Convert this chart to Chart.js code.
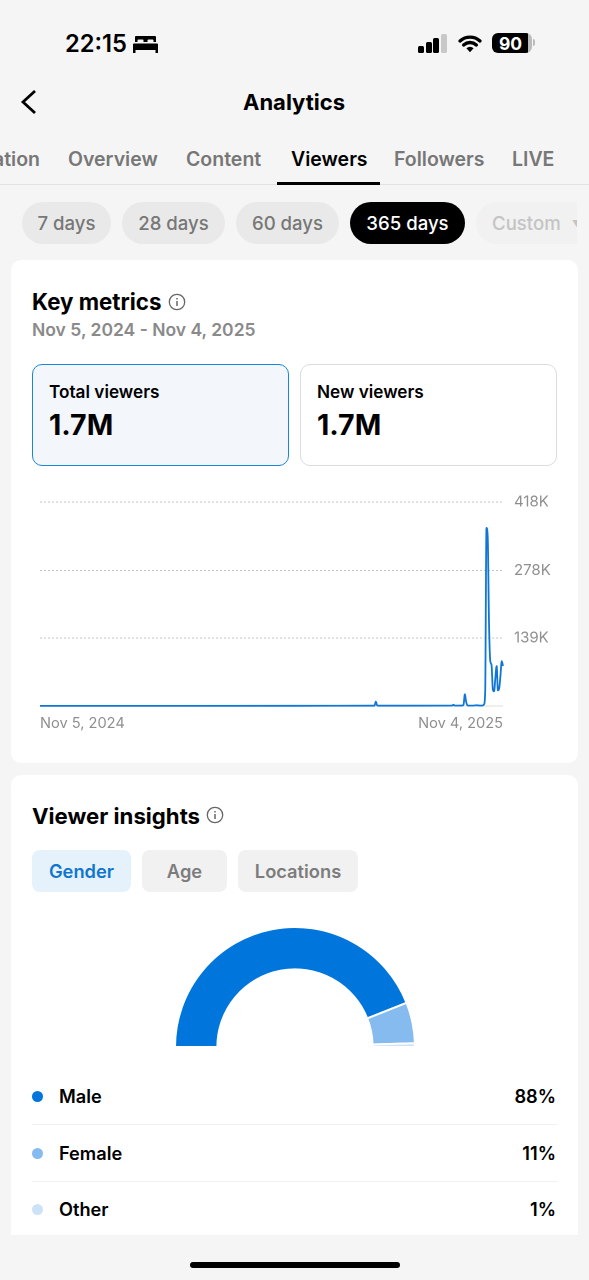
<!DOCTYPE html>
<html><head><meta charset="utf-8">
<script src="https://cdn.jsdelivr.net/npm/chart.js@4"></script>
<style>
html,body{margin:0;padding:0;width:589px;height:1280px;overflow:hidden;background:#f5f5f5;font-family:Inter,"Noto Sans",sans-serif;color:#000}
.t{position:absolute;white-space:nowrap;line-height:1;transform:translateY(-50%)}
.b{position:absolute;box-sizing:border-box}
.pill{position:absolute;top:202px;height:42px;border-radius:21px;background:#e9e9e9;color:#777;font-size:18.600px;font-weight:500;display:flex;align-items:center;justify-content:center}
.tab{position:absolute;top:850px;height:42px;border-radius:8px;background:#f1f1f1;color:#7c7c7c;font-size:18.300px;font-weight:600;display:flex;align-items:center;justify-content:center}
.nav{font-size:19.500px;font-weight:600;color:#777;top:159.500px}
canvas{position:absolute}
</style></head><body>
<div class="t" style="left:65px;top:44px;font-size:23.700px;font-weight:600">22:15</div>
<svg class="b" style="left:133px;top:35px" width="25" height="18" viewBox="0 0 25 18"><path d="M3 1h19a1 1 0 0 1 1 1v5h-2.500V5.500a1 1 0 0 0-1-1h-4a1 1 0 0 0-1 1V7h-4V5.500a1 1 0 0 0-1-1h-4a1 1 0 0 0-1 1V7H2V2a1 1 0 0 1 1-1zM1 8.500h23a1 1 0 0 1 1 1V18h-2.500v-3h-20v3H0V9.500a1 1 0 0 1 1-1z" fill="#000"/></svg>
<div class="b" style="left:418px;top:46px;width:6px;height:7px;background:#000;border-radius:1.500px"></div>
<div class="b" style="left:426px;top:42px;width:6px;height:11px;background:#000;border-radius:1.500px"></div>
<div class="b" style="left:433px;top:38px;width:6px;height:15px;background:#000;border-radius:1.500px"></div>
<div class="b" style="left:441px;top:34px;width:6px;height:19px;background:#c8c8c8;border-radius:1.500px"></div>
<svg class="b" style="left:457px;top:33px" width="26" height="20" viewBox="0 0 26 20"><path d="M3 7.900A15 15 0 0 1 23 7.900M6.640 11.940A9.500 9.500 0 0 1 19.360 11.940" fill="none" stroke="#000" stroke-width="3.400" stroke-linecap="round"/><path d="M9.400 15.200a5 5 0 0 1 7.200 0L13 19.200z" fill="#000"/></svg>
<div class="b" style="left:492px;top:33px;width:40px;height:20px;border-radius:6px;background:linear-gradient(90deg,#000 90%,#bbb 90%)"></div>
<div class="t" style="left:499px;top:43.500px;font-size:17.500px;font-weight:700;color:#fff">90</div>
<div class="b" style="left:533px;top:39px;width:2px;height:7px;background:#bbb;border-radius:0 2px 2px 0"></div>

<svg class="b" style="left:18px;top:88px" width="24" height="28" viewBox="0 0 24 28"><path d="M17 3L5 14l12 11" fill="none" stroke="#000" stroke-width="2.800"/></svg>
<div class="t" style="left:243px;top:102px;font-size:22px;font-weight:700">Analytics</div>

<div class="t nav" style="right:549px">Location</div>
<div class="t nav" style="left:68px">Overview</div>
<div class="t nav" style="left:186px">Content</div>
<div class="t nav" style="left:291px;color:#000">Viewers</div>
<div class="t nav" style="left:394px">Followers</div>
<div class="t nav" style="left:512px">LIVE</div>
<div class="b" style="left:0;top:184px;width:589px;height:1px;background:#e2e2e2"></div>
<div class="b" style="left:277px;top:182px;width:103px;height:3px;background:#000"></div>

<div class="pill" style="left:22px;width:89px">7 days</div>
<div class="pill" style="left:122px;width:103px">28 days</div>
<div class="pill" style="left:236px;width:103px">60 days</div>
<div class="pill" style="left:350px;width:115px;background:#000;color:#fff">365 days</div>
<div class="pill" style="left:476px;width:101px;background:#f1f1f1;color:#c4c4c4;justify-content:flex-start;padding-left:16px;box-sizing:border-box;border-radius:21px 0 0 21px;overflow:hidden">Custom</div>
<div class="t" style="left:572px;top:223px;font-size:9px;color:#c4c4c4;width:5px;overflow:hidden">▼</div>

<div class="b" style="left:11px;top:260px;width:567px;height:503px;background:#fff;border-radius:10px"></div>
<div class="b" style="left:11px;top:775px;width:567px;height:460px;background:#fff;border-radius:10px 10px 0 0"></div>

<div class="t" style="left:32px;top:302px;font-size:22.300px;font-weight:700">Key metrics</div>
<svg class="b" style="left:168px;top:293px" width="18" height="18" viewBox="0 0 18 18"><circle cx="9" cy="9" r="7.700" fill="none" stroke="#666" stroke-width="1.300"/><path d="M9 8v5M9 5v1.500" stroke="#666" stroke-width="1.500"/></svg>
<div class="t" style="left:32px;top:330px;font-size:17.500px;font-weight:600;color:#8a8a8a">Nov 5, 2024 - Nov 4, 2025</div>

<div class="b" style="left:32px;top:364px;width:257px;height:102px;background:#f3f7fc;border:1px solid #1a86d8;border-radius:10px"></div>
<div class="b" style="left:300px;top:364px;width:257px;height:102px;background:#fff;border:1px solid #d9dde0;border-radius:10px"></div>
<div class="t" style="left:49px;top:392px;font-size:17.200px;font-weight:600">Total viewers</div>
<div class="t" style="left:49px;top:425px;font-size:28.500px;font-weight:700">1.7M</div>
<div class="t" style="left:317px;top:392px;font-size:17.200px;font-weight:600">New viewers</div>
<div class="t" style="left:317px;top:425px;font-size:28.500px;font-weight:700">1.7M</div>

<canvas id="line" style="left:30px;top:482px;width:540px;height:253px"></canvas>

<div class="t" style="left:32px;top:816px;font-size:22.200px;font-weight:700">Viewer insights</div>
<svg class="b" style="left:206px;top:806px" width="18" height="18" viewBox="0 0 18 18"><circle cx="9" cy="9" r="7.700" fill="none" stroke="#666" stroke-width="1.300"/><path d="M9 8v5M9 5v1.500" stroke="#666" stroke-width="1.500"/></svg>
<div class="tab" style="left:32px;width:99px;background:#e5f2fc;color:#0f75cf">Gender</div>
<div class="tab" style="left:142px;width:85px">Age</div>
<div class="tab" style="left:238px;width:120px">Locations</div>

<canvas id="gauge" style="left:154.500px;top:917px;width:280px;height:140px"></canvas>
<div id="legend"></div>

<div class="b" style="left:190px;top:1262px;width:210px;height:6px;border-radius:3px;background:#000"></div>

<script>
const days = [0,100,200,262,263,264,265,266,324,325,326,332,333,334,335,336,337,340,343,346,348,349,350,351,352,353,354,355,356,357,358,359,360,361,362,363,364];
const viewers = [300,300,400,600,800,9000,1500,600,800,2500,800,900,3000,24000,9000,1500,800,700,1500,800,1000,3000,30000,365000,345000,170000,92000,84000,34000,30000,58000,82000,32000,36000,62000,92000,82000];
const xTickValues = [0,364];
const xTickLabels = ['Nov 5, 2024','Nov 4, 2025'];
const yTickValues = [0,139000,278000,418000];
const yTickLabels = ['','139K','278K','418K'];
const genders = ['Male','Female','Other'];
const genderShares = [88,11,1];
const genderColors = ['#0075db','#85bbee','#cce3f7'];
const rowCenters = [1095.500,1152.500,1208.500];

Chart.defaults.animation = false;
Chart.defaults.font.family = 'Inter, "Noto Sans", sans-serif';

new Chart(document.getElementById('line'), {
  type: 'line',
  data: { datasets: [{
    data: days.map((d, i) => ({ x: d, y: viewers[i] })),
    borderColor: '#1076d6', borderWidth: 1.800, pointRadius: 0, cubicInterpolationMode: 'monotone', fill: false, clip: false
  }]},
  options: {
    responsive: false, maintainAspectRatio: false,
    devicePixelRatio: 2,
    layout: { padding: { left: 10, top: 3, right: 0, bottom: 0 } },
    plugins: { legend: { display: false }, tooltip: { enabled: false } },
    scales: {
      x: {
        type: 'linear', min: 0, max: 364,
        grid: { display: false }, border: { display: false },
        afterBuildTicks: s => { s.ticks = xTickValues.map(v => ({ value: v })); },
        afterFit: s => { s.height = 29; },
        ticks: { autoSkip: false, maxRotation: 0, align: 'inner', padding: 1, color: '#8e8e8e', font: { size: 14.600 },
          callback: (v, i) => xTickLabels[i] }
      },
      y: {
        position: 'right', min: 0, max: 418000,
        afterBuildTicks: s => { s.ticks = yTickValues.map(v => ({ value: v })); },
        afterFit: s => { s.width = 67; },
        border: { display: false, dash: c => c.tick && c.tick.value === 0 ? [] : [2, 2] },
        grid: { drawTicks: false, lineWidth: 1, color: c => c.tick && c.tick.value === 0 ? '#dddddd' : '#c4c4c4' },
        ticks: { padding: 11, color: '#8e8e8e', font: { size: 15 }, callback: (v, i) => yTickLabels[i] }
      }
    }
  }
});

new Chart(document.getElementById('gauge'), {
  type: 'doughnut',
  data: { labels: genders, datasets: [{ data: genderShares, backgroundColor: genderColors, borderColor: '#ffffff', borderWidth: 2 }]},
  options: {
    responsive: false, maintainAspectRatio: false, devicePixelRatio: 2,
    rotation: -90, circumference: 180, radius: 120, cutout: '64.700%',
    layout: { padding: 0 },
    plugins: { legend: { display: false }, tooltip: { enabled: false } }
  }
});

const lg = document.getElementById('legend');
genders.forEach((g, i) => {
  const y = rowCenters[i];
  lg.insertAdjacentHTML('beforeend',
    `<div class="b" style="left:32px;top:${y-5}px;width:11px;height:11px;border-radius:50%;background:${genderColors[i]}"></div>
     <div class="t" style="left:59px;top:${y}px;font-size:18.200px;font-weight:600">${g}</div>
     <div class="t" style="right:33px;top:${y}px;font-size:18.200px;font-weight:600">${genderShares[i]}%</div>`);
  if (i < 2) lg.insertAdjacentHTML('beforeend', `<div class="b" style="left:32px;top:${y+28}px;width:525px;height:1px;background:#f1f1f1"></div>`);
});
</script>
</body></html>
